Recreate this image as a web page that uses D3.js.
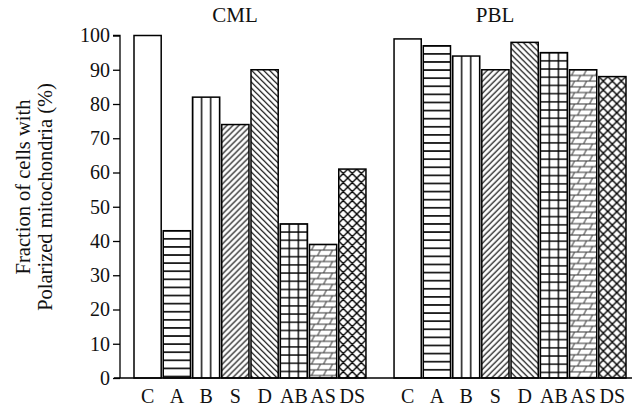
<!DOCTYPE html>
<html>
<head>
<meta charset="utf-8">
<script src="https://cdn.jsdelivr.net/npm/d3@7"></script>
<style>
  html, body { margin: 0; padding: 0; background: #fff; }
  svg { display: block; font-family: "Liberation Serif", "Times New Roman", serif; }
</style>
</head>
<body>
<svg id="chart" width="636" height="408"></svg>
<script>
// Cell lines and treatments
const groups = ["CML", "PBL"];
const treatments = ["C", "A", "B", "S", "D", "AB", "AS", "DS"];
// Fraction of cells with polarized mitochondria (%)
const cmlValues = [100, 43, 82, 74, 90, 45, 39, 61];
const pblValues = [99, 97, 94, 90, 98, 95, 90, 88];
const yTicks = [0, 10, 20, 30, 40, 50, 60, 70, 80, 90, 100];
const yLabelLines = ["Fraction of cells with", "Polarized mitochondria (%)"];

const svg = d3.select("#chart");
const axisX = 120;
const baseY = 378;

const x0 = d3.scaleBand().domain(groups).range([134, 626]).paddingInner(0.108).paddingOuter(0);
const x1 = d3.scaleBand().domain(treatments).range([0, x0.bandwidth()]).paddingInner(0.07).paddingOuter(0);
const y = d3.scaleLinear().domain([0, 100]).range([baseY, 35.5]);

const series = { CML: cmlValues, PBL: pblValues };
const bars = [];
groups.forEach(g => treatments.forEach((t, i) => bars.push({ group: g, key: t, value: series[g][i] })));

const defs = svg.append("defs");

// Fill pattern for each treatment, anchored on the bar's own corner
function addPattern(d, id) {
  const bx = x0(d.group) + x1(d.key);
  const by = y(d.value);
  const bw = x1.bandwidth();
  let w, h;
  const p = defs.append("pattern").attr("id", id).attr("patternUnits", "userSpaceOnUse");
  const line = (xa, ya, xb, yb, sw, col) => p.append("line")
    .attr("x1", xa).attr("y1", ya).attr("x2", xb).attr("y2", yb)
    .attr("stroke", col || "#000").attr("stroke-width", sw);
  switch (d.key) {
    case "C":
      w = 10; h = 10;
      p.append("rect").attr("width", w).attr("height", h).attr("fill", "#fff");
      break;
    case "A":
      w = 10; h = 8.1;
      p.append("rect").attr("width", w).attr("height", h).attr("fill", "#fff");
      line(0, 0, w, 0, 1.6); line(0, h, w, h, 1.6);
      break;
    case "B":
      w = bw / 3; h = 10;
      p.append("rect").attr("width", w).attr("height", h).attr("fill", "#fff");
      line(0, 0, 0, h, 1.4); line(w, 0, w, h, 1.4);
      break;
    case "S":
      w = 6; h = 6;
      p.append("rect").attr("width", w).attr("height", h).attr("fill", "#fff");
      p.append("path").attr("d", "M0,6L6,0M-1,1L1,-1M5,7L7,5").attr("stroke", "#000").attr("stroke-width", 1.2);
      break;
    case "D":
      w = 6; h = 6;
      p.append("rect").attr("width", w).attr("height", h).attr("fill", "#fff");
      p.append("path").attr("d", "M0,0L6,6M-1,5L1,7M5,-1L7,1").attr("stroke", "#000").attr("stroke-width", 1.2);
      break;
    case "AB":
      w = bw / 3; h = 8.2;
      p.append("rect").attr("width", w).attr("height", h).attr("fill", "#fff");
      line(0, 0, 0, h, 1.4); line(w, 0, w, h, 1.4);
      line(0, 0, w, 0, 1.4); line(0, h, w, h, 1.4);
      break;
    case "AS":
      w = 12; h = 11.4;
      p.append("rect").attr("width", w).attr("height", h).attr("fill", "#fff");
      line(0, 0, w, 0, 1, "#333"); line(0, h / 2, w, h / 2, 1, "#333"); line(0, h, w, h, 1, "#333");
      line(2, h / 2, 5, 0, 1, "#333");
      line(8, h, 11, h / 2, 1, "#333");
      break;
    case "DS":
      w = 9; h = 9;
      p.append("rect").attr("width", w).attr("height", h).attr("fill", "#fff");
      p.append("path").attr("d", "M0,0L9,9M0,9L9,0M-1,1L1,-1M8,10L10,8M-1,8L1,10M8,-1L10,1")
        .attr("stroke", "#000").attr("stroke-width", 1.4);
      break;
  }
  p.attr("width", w).attr("height", h).attr("x", bx).attr("y", by);
}

bars.forEach((d, i) => addPattern(d, "fill-" + i));

// Bars
svg.append("g").selectAll("rect").data(bars).join("rect")
  .attr("x", d => x0(d.group) + x1(d.key))
  .attr("y", d => y(d.value))
  .attr("width", x1.bandwidth())
  .attr("height", d => baseY - y(d.value))
  .attr("fill", (d, i) => `url(#fill-${i})`)
  .attr("stroke", "#000")
  .attr("stroke-width", 1.5);

// Y axis
const yAxis = d3.axisLeft(y).tickValues(yTicks).tickSize(7).tickPadding(3).tickFormat(d3.format("d"));
const gy = svg.append("g").attr("transform", `translate(${axisX},0)`).call(yAxis);
gy.select(".domain").attr("stroke", "#000").attr("stroke-width", 1.3).attr("d", `M-7,${y(100)}H0V${baseY}`);
gy.selectAll(".tick line").attr("stroke", "#000").attr("stroke-width", 1.3);
gy.selectAll(".tick text").attr("font-size", 20).attr("font-family", "Liberation Serif, serif").attr("fill", "#111");

// Baseline
svg.append("line").attr("x1", 114).attr("x2", 632).attr("y1", baseY).attr("y2", baseY)
  .attr("stroke", "#000").attr("stroke-width", 1.3);

// Category labels
svg.append("g").selectAll("text").data(bars).join("text")
  .attr("x", d => x0(d.group) + x1(d.key) + x1.bandwidth() / 2)
  .attr("y", 403)
  .attr("text-anchor", "middle")
  .attr("font-size", 20)
  .attr("fill", "#111")
  .text(d => d.key);

// Group titles
svg.append("g").selectAll("text").data(groups).join("text")
  .attr("x", g => x0(g) + x0.bandwidth() / 2 - 15)
  .attr("y", 22)
  .attr("text-anchor", "middle")
  .attr("font-size", 21)
  .attr("fill", "#111")
  .text(g => g);

// Y axis title
svg.append("g").selectAll("text").data(yLabelLines).join("text")
  .attr("transform", (d, i) => `translate(${i === 0 ? 30 : 52},${i === 0 ? 187 : 197}) rotate(-90)`)
  .attr("text-anchor", "middle")
  .attr("font-size", 20.5)
  .attr("fill", "#111")
  .text(d => d);
</script>
</body>
</html>
